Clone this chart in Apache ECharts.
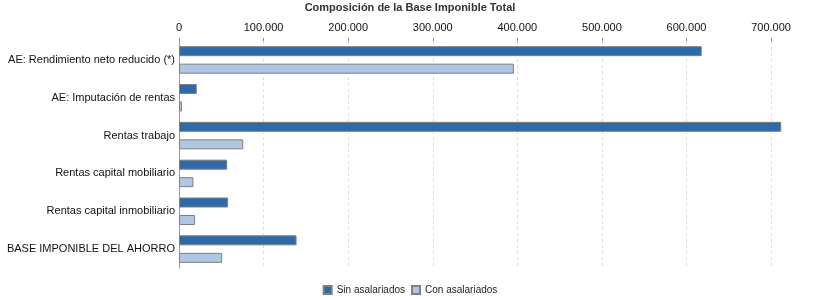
<!DOCTYPE html>
<html><head><meta charset="utf-8">
<script src="https://cdn.jsdelivr.net/npm/echarts@6/dist/echarts.min.js"></script>
<style>html,body{margin:0;padding:0;background:#fff}#c{width:820px;height:300px}</style>
</head><body><div id="c"></div>
<script>
var title = 'Composición de la Base Imponible Total';
var categories = ['AE: Rendimiento neto reducido (*)', 'AE: Imputación de rentas', 'Rentas trabajo', 'Rentas capital mobiliario', 'Rentas capital inmobiliario', 'BASE IMPONIBLE DEL AHORRO'];
var seriesNames = ['Sin asalariados', 'Con asalariados'];
var sinValues = [618000, 21000, 712000, 57000, 58000, 139000];
var conValues = [396000, 3500, 76000, 17000, 19000, 51000];
var tickValues = [0, 100000, 200000, 300000, 400000, 500000, 600000, 700000];

var fontFam = 'Liberation Sans, Arial, sans-serif';
function fmt(v){ return String(v).replace(/\B(?=(\d{3})+(?!\d))/g, '.'); }

var chart = echarts.init(document.getElementById('c'), null, {renderer:'canvas'});
chart.setOption({
  animation:false,
  title:{text:title,left:'center',top:-3,textStyle:{fontFamily:fontFam,fontSize:11,fontWeight:'bold',color:'#333'}},
  legend:{data:seriesNames,bottom:0,left:'center',itemWidth:8,itemHeight:8,itemGap:6,
    textStyle:{fontFamily:fontFam,fontSize:10,color:'#222'},icon:'rect'},
  grid:{left:179,right:32,top:41,bottom:32,containLabel:false},
  xAxis:{type:'value',position:'top',min:tickValues[0],max:720000,interval:tickValues[1]-tickValues[0],
    axisLine:{show:false},axisTick:{show:true,length:3,lineStyle:{color:'#888'}},
    axisLabel:{showMaxLabel:false,margin:8,fontFamily:fontFam,fontSize:11,color:'#111',formatter:fmt},
    splitLine:{show:true,showMinLine:false,showMaxLine:false,lineStyle:{color:'#ddd',type:[3,3]}}},
  yAxis:{type:'category',data:categories,inverse:true,
    axisLine:{show:true,lineStyle:{color:'#999'}},axisTick:{show:false},
    axisLabel:{margin:4,fontFamily:fontFam,fontSize:11,color:'#111'}},
  series:[
    {name:seriesNames[0],type:'bar',data:sinValues,barWidth:10,barGap:'75%',
      itemStyle:{color:'#2D6AAA',borderColor:'#7f7f7f',borderWidth:1}},
    {name:seriesNames[1],type:'bar',data:conValues,barWidth:10,barGap:'75%',
      itemStyle:{color:'#B0C7E4',borderColor:'#7f7f7f',borderWidth:1}}
  ]
});
</script></body></html>
